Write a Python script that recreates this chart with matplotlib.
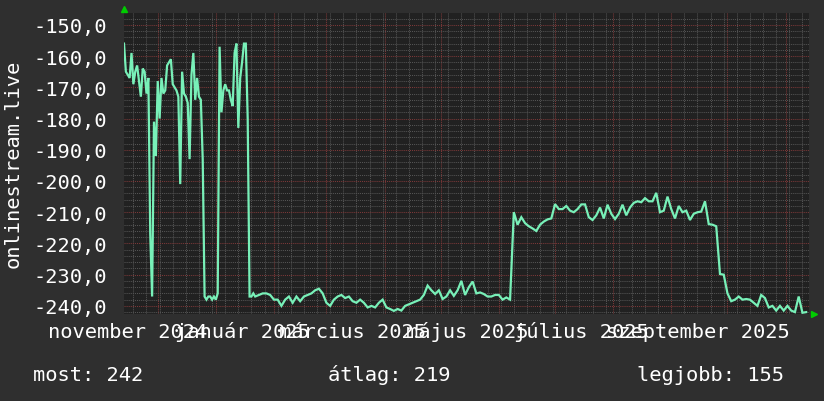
import pandas as pd
import matplotlib
matplotlib.use("Agg")
import matplotlib.pyplot as plt
import matplotlib.dates as mdates
from matplotlib.ticker import MultipleLocator, FuncFormatter, NullFormatter

# rank of onlinestream.live (negative = higher is better), Nov 2024 - Nov 2025
start = pd.Timestamp("2024-11-13")

# first 70 days, one value per day
daily_vals = [
    -156, -165, -166, -167, -159, -169, -165, -163, -168, -173,
    -164, -165, -172, -167, -217, -237, -181, -192, -168, -180,
    -167, -172, -171, -163, -162, -161, -169, -170, -171, -173,
    -201, -165, -172, -173, -175, -193, -166, -159, -174, -167,
    -173, -174, -193, -237, -238, -237, -237, -238, -237, -238,
    -236, -157, -178, -171, -169, -171, -171, -174, -176, -159,
    -156, -183, -167, -162, -156, -156, -180, -237, -237, -236,
]

# rest of the year, one value every 2 days
every2_vals = [
    -237, -236.5, -236, -236, -236.5, -238, -238, -240, -238, -237,
    -239, -237, -238.5, -237, -236.5, -236, -235, -234.5, -236, -239,
    -240, -238, -237, -236.5, -237.5, -237, -238.5, -239, -238, -239,
    -240.5, -240, -240.5, -239, -238, -240.5, -241, -241.6, -241, -241.5,
    -240, -239.5, -239, -238.5, -238, -236.5, -233.5, -235, -236.2, -235,
    -237.8, -237, -235, -236.8, -235, -232, -236.5, -234, -232.2, -236,
    -235.7, -236.2, -237, -237, -236.5, -236.5, -238, -237.3, -238, -210,
    -214, -211.6, -213.5, -214.5, -215.2, -216, -214, -213, -212.3, -212,
    -207.4, -209, -209, -208, -209.5, -210, -209, -207.5, -207.5, -211.6,
    -212.5, -211, -208.5, -212, -207.6, -210.5, -212.2, -210.5, -207.6, -211,
    -208.5, -207, -206.5, -206.8, -205.5, -206.5, -206.5, -203.8, -210, -209.5,
    -205, -209, -212, -208, -210, -209.5, -212.5, -210.5, -210, -209.8,
    -206.5, -213.8, -214, -214.5, -229.8, -230, -236, -238.5, -238, -237,
    -238, -237.8, -238, -239, -240, -236.5, -237.5, -240.5, -240, -241.5,
    -240, -241.5, -240, -241.5, -242, -237, -242.2, -242,
]

label_months = ["2024-11-15", "2025-01-15", "2025-03-15",
                "2025-05-15", "2025-07-15", "2025-09-15"]
label_texts = ["november 2024", "január 2025", "március 2025",
               "május 2025", "július 2025", "szeptember 2025"]

now_val, avg_val, best_val = 242, 219, 155

dates = pd.date_range(start, periods=len(daily_vals), freq="D").append(
    pd.date_range(start + pd.Timedelta(days=len(daily_vals)),
                  periods=len(every2_vals), freq="2D"))
values = daily_vals + every2_vals

fig_bg = "#2f2f2f"
plot_bg = "#212121"
line_col = "#78f0b8"
txt_col = "#ffffff"
mono = "DejaVu Sans Mono"
fs = 14.7

W, H = 824, 402
fig = plt.figure(figsize=(W / 100, H / 100), dpi=100, facecolor=fig_bg)
left, right, top, bottom = 124, 809, 14, 315
ax = fig.add_axes([left / W, 1 - bottom / H, (right - left) / W, (bottom - top) / H])
ax.set_facecolor(plot_bg)

ax.plot(dates, values, color=line_col, lw=1.6, solid_joinstyle="miter", zorder=3)

ax.set_xlim(start, start + pd.Timedelta(days=365.5))
ax.set_ylim(-242.6, -146.2)

# grid: months red, weeks gray, y every 10 red / every 2 gray
ax.xaxis.set_major_locator(mdates.MonthLocator())
ax.xaxis.set_minor_locator(mdates.WeekdayLocator(byweekday=mdates.MO))
ax.xaxis.set_major_formatter(NullFormatter())
ax.yaxis.set_major_locator(MultipleLocator(10))
ax.yaxis.set_minor_locator(MultipleLocator(2))
ax.yaxis.set_major_formatter(FuncFormatter(lambda v, p: f"{v:.1f}".replace(".", ",")))
ax.grid(which="minor", color="#545454", ls=(0, (1, 1)), lw=0.75)
ax.grid(which="major", color="#7c3838", ls=(0, (1, 1)), lw=0.75)
ax.set_axisbelow(True)

ax.tick_params(which="both", length=0)
ax.tick_params(axis="y", colors=txt_col, labelsize=fs, pad=12)
for t in ax.get_yticklabels():
    t.set_fontfamily(mono)

for sp in ax.spines.values():
    sp.set_visible(False)

# month labels centred mid-month under the plot
for d, s in zip(label_months, label_texts):
    ax.text(pd.Timestamp(d), -23 / (bottom - top), s, transform=ax.get_xaxis_transform(),
            ha="center", va="baseline", color=txt_col, fontsize=fs, family=mono, clip_on=False)

# small green arrows at axis ends
ax.plot([0], [1.012], marker="^", color="#00cc00", ms=5, transform=ax.transAxes, clip_on=False)
ax.plot([1.0066], [0.0], marker=">", color="#00cc00", ms=5, transform=ax.transAxes, clip_on=False)

fig.text(13 / W, 1 - 164 / H, "onlinestream.live", rotation=90, ha="center", va="center",
         color=txt_col, fontsize=fs, family=mono)

fig.text(33 / W, 1 - 381 / H, f"most: {now_val}", color=txt_col, fontsize=fs, family=mono, va="baseline")
fig.text(328 / W, 1 - 381 / H, f"átlag: {avg_val}", color=txt_col, fontsize=fs, family=mono, va="baseline")
fig.text(637 / W, 1 - 381 / H, f"legjobb: {best_val}", color=txt_col, fontsize=fs, family=mono, va="baseline")

fig.savefig("out.png", dpi=100, facecolor=fig_bg)
